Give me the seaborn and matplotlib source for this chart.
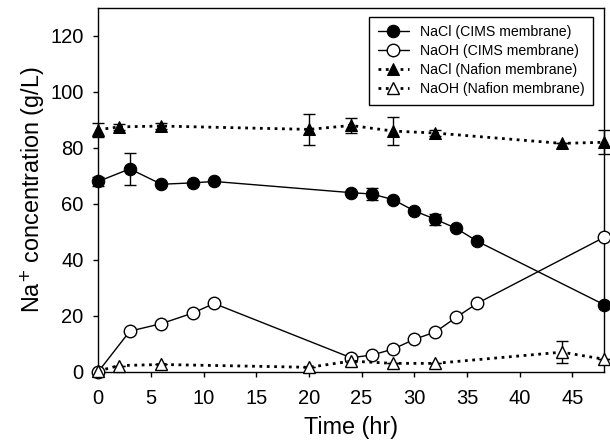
import matplotlib
matplotlib.use("Agg")
import matplotlib.pyplot as plt
import seaborn as sns
import numpy as np

# Data
time_cims = [0, 3, 6, 9, 11, 24, 26, 28, 30, 32, 34, 36, 48]
nacl_cims = [68, 72.5, 67, 67.5, 68, 64, 63.5, 61.5, 57.5, 54.5, 51.2, 46.6, 24]
nacl_cims_err = [1.5, 5.6, 0, 0, 0, 0, 2.0, 0, 0, 2.0, 0, 0, 0]
naoh_cims = [0, 14.5, 17.2, 21, 24.4, 5, 6, 8.1, 11.6, 14.2, 19.5, 24.5, 48]

time_naf = [0, 2, 6, 20, 24, 28, 32, 44, 48]
nacl_naf = [86.5, 87.5, 87.8, 86.6, 88, 86, 85.3, 81.6, 82]
nacl_naf_err = [2.5, 1.0, 1.0, 5.5, 2.6, 5.1, 1.0, 0, 4.3]
naoh_naf = [0.3, 2.2, 2.6, 1.6, 3.8, 3.0, 3.0, 7.0, 4.5]
naoh_naf_err = [0, 0, 0, 0, 0, 0, 0, 4.0, 0]

sns.set_style("ticks")
plt.rcParams["font.family"] = ["Liberation Sans", "DejaVu Sans"]
plt.rcParams["text.color"] = "black"
plt.rcParams["axes.labelcolor"] = "black"
plt.rcParams["xtick.color"] = "black"
plt.rcParams["ytick.color"] = "black"
plt.rcParams["axes.edgecolor"] = "black"

fig = plt.figure(figsize=(6.1, 4.41), dpi=100)
ax = fig.add_axes([0.161, 0.157, 0.829, 0.825])

# error bars first so markers sit on top
for xs, ys, es in [(time_cims, nacl_cims, nacl_cims_err),
                   (time_naf, nacl_naf, nacl_naf_err),
                   (time_naf, naoh_naf, naoh_naf_err)]:
    eb = ax.errorbar(xs, ys, yerr=es, fmt="none", ecolor="black",
                     elinewidth=1, capsize=4.5, capthick=1, zorder=2)
    for part in eb.lines[1] + eb.lines[2]:
        part.set_clip_on(False)

sns.lineplot(x=time_cims, y=nacl_cims, ax=ax, color="black", linewidth=1,
             marker="o", markersize=9, markerfacecolor="black", markeredgecolor="black",
             label="NaCl (CIMS membrane)", zorder=3, clip_on=False)
sns.lineplot(x=time_cims, y=naoh_cims, ax=ax, color="black", linewidth=1,
             marker="o", markersize=9, markerfacecolor="white", markeredgecolor="black",
             markeredgewidth=1, label="NaOH (CIMS membrane)", zorder=3, clip_on=False)
sns.lineplot(x=time_naf, y=nacl_naf, ax=ax, color="black", linewidth=2, linestyle=":",
             marker="^", markersize=9, markerfacecolor="black", markeredgecolor="black",
             label="NaCl (Nafion membrane)", zorder=3, clip_on=False)
sns.lineplot(x=time_naf, y=naoh_naf, ax=ax, color="black", linewidth=2, linestyle=":",
             marker="^", markersize=9, markerfacecolor="white", markeredgecolor="black",
             markeredgewidth=1, label="NaOH (Nafion membrane)", zorder=3, clip_on=False)

ax.set_xlim(0, 48)
ax.set_ylim(0, 130)
ax.set_xticks(np.arange(0, 50, 5))
ax.set_yticks(np.arange(0, 140, 20))
ax.tick_params(direction="out", length=3.5, width=1, labelsize=14.5, color="black",
               labelcolor="black")
ax.tick_params(axis="x", pad=9)
ax.tick_params(axis="y", pad=7)
for s in ax.spines.values():
    s.set_color("black")
    s.set_linewidth(1)

ax.set_xlabel("Time (hr)", fontsize=16.8, color="black", labelpad=6)
ax.set_ylabel("Na$^{+}$ concentration (g/L)", fontsize=16.8, color="black", labelpad=2)

leg = ax.legend(loc="upper right", fontsize=10.2, frameon=True, fancybox=False,
                edgecolor="black", framealpha=1, handlelength=2.2,
                borderpad=0.6, labelspacing=0.35, bbox_to_anchor=(0.993, 0.995))
leg.get_frame().set_linewidth(1)
for t in leg.get_texts():
    t.set_color("black")

fig.savefig("out.png", dpi=100)
